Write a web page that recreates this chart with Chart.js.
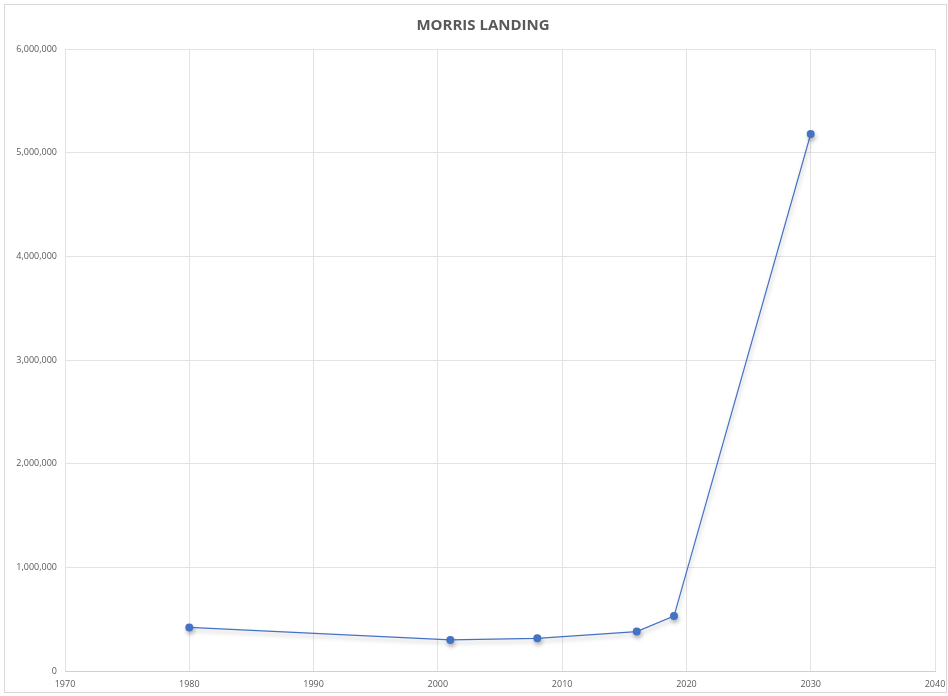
<!DOCTYPE html>
<html>
<head>
<meta charset="utf-8">
<script src="https://cdn.jsdelivr.net/npm/chart.js@4.4.1/dist/chart.umd.min.js"></script>
<style>
  html, body { margin: 0; padding: 0; background: #ffffff; }
  #wrap { position: relative; width: 948px; height: 696px; }
  #frame { position: absolute; left: 4px; top: 4px; width: 943px; height: 689px; border: 1px solid #d9d9d9; box-sizing: border-box; pointer-events: none; }
  canvas { position: absolute; left: 0; top: 0; }
</style>
</head>
<body>
<div id="wrap">
  <canvas id="c" width="948" height="696"></canvas>
  <div id="frame"></div>
</div>
<script>
// Population by year, Morris Landing
const years = [1980, 2001, 2008, 2016, 2019, 2030];
const population = [420000, 300000, 315000, 380000, 530000, 5180000];

const xTickValues = [1970, 1980, 1990, 2000, 2010, 2020, 2030, 2040];
const yTickValues = [0, 1000000, 2000000, 3000000, 4000000, 5000000, 6000000];

const chartTitle = 'MORRIS LANDING';

const FONT = "'Liberation Sans Narrow', 'Open Sans', 'Liberation Sans', sans-serif";
const TEXT = '#595959';
const BLUE = '#4472C4';

// soft drop shadow under the series line
const shadowPlugin = {
  id: 'lineShadow',
  beforeDatasetDraw(chart) {
    const ctx = chart.ctx;
    ctx.save();
    ctx.shadowColor = 'rgba(0,0,0,0.28)';
    ctx.shadowBlur = 4;
    ctx.shadowOffsetX = 1;
    ctx.shadowOffsetY = 3;
  },
  afterDatasetDraw(chart) {
    chart.ctx.restore();
  }
};

// heading drawn in the space reserved above the plot
const headingPlugin = {
  id: 'heading',
  afterDraw(chart) {
    const ctx = chart.ctx;
    ctx.save();
    ctx.font = `bold 15px ${FONT}`;
    ctx.fillStyle = TEXT;
    ctx.textAlign = 'center';
    ctx.textBaseline = 'middle';
    ctx.fillText(chartTitle, 483, 26);
    ctx.restore();
  }
};

new Chart(document.getElementById('c'), {
  type: 'line',
  data: {
    datasets: [{
      data: years.map((y, i) => ({ x: y, y: population[i] })),
      borderColor: BLUE,
      backgroundColor: BLUE,
      borderWidth: 1.2,
      pointRadius: 4,
      pointBorderWidth: 0,
      pointBackgroundColor: BLUE,
      tension: 0,
      fill: false
    }]
  },
  options: {
    responsive: false,
    animation: false,
    devicePixelRatio: 1,
    layout: { padding: { left: 0, right: 13, top: 49, bottom: 0 } },
    plugins: {
      legend: { display: false },
      tooltip: { enabled: false },
      title: { display: false }
    },
    scales: {
      x: {
        type: 'linear',
        min: 1970,
        max: 2040,
        afterBuildTicks(scale) { scale.ticks = xTickValues.map(v => ({ value: v })); },
        afterFit(scale) { scale.height = 25; scale.paddingLeft = 0; scale.paddingRight = 0; },
        ticks: {
          color: TEXT,
          font: { family: FONT, size: 9 },
          padding: 8,
          maxRotation: 0,
          callback: v => String(v)
        },
        grid: { color: '#e3e3e3', lineWidth: 1, drawTicks: false },
        border: { display: true, color: '#d0d0d0', width: 1 }
      },
      y: {
        min: 0,
        max: 6000000,
        afterBuildTicks(scale) { scale.ticks = yTickValues.map(v => ({ value: v })); },
        afterFit(scale) { scale.width = 65; scale.paddingTop = 0; scale.paddingBottom = 0; },
        ticks: {
          color: TEXT,
          font: { family: FONT, size: 9 },
          padding: 8,
          callback: v => v.toLocaleString('en-US')
        },
        grid: { color: '#e3e3e3', lineWidth: 1, drawTicks: false },
        border: { display: false }
      }
    }
  },
  plugins: [shadowPlugin, headingPlugin]
});
</script>
</body>
</html>
